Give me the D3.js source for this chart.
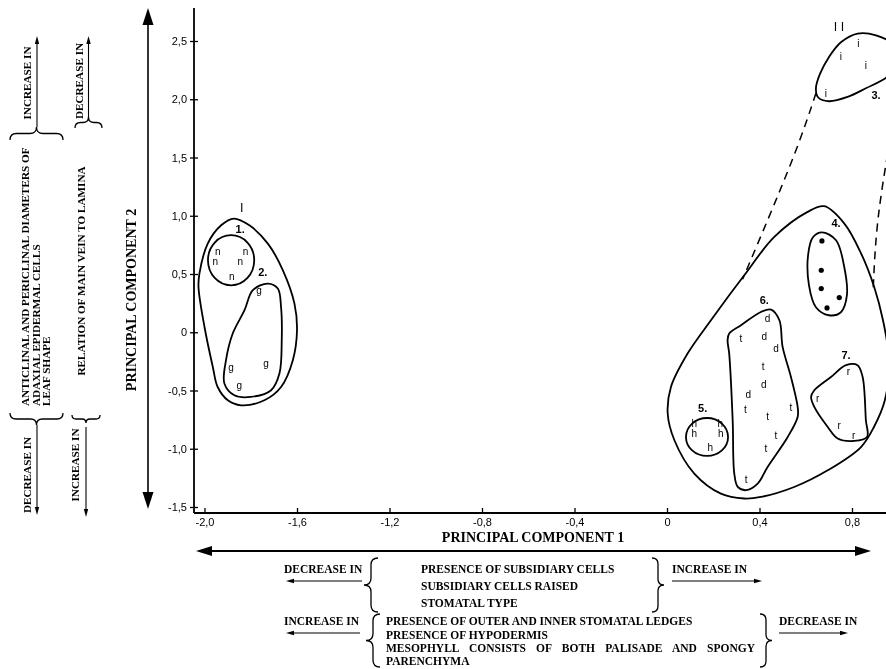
<!DOCTYPE html>
<html>
<head>
<meta charset="utf-8">
<script src="https://cdn.jsdelivr.net/npm/d3@7"></script>
<style>
  body { margin: 0; background: #fff; }
  #chart { will-change: transform; }
  svg { display: block; }
</style>
</head>
<body>
<div id="chart"></div>
<script>
// axis ticks
var xTicks = [-2.0, -1.6, -1.2, -0.8, -0.4, 0, 0.4, 0.8];
var xTickLabels = ["-2,0", "-1,6", "-1,2", "-0,8", "-0,4", "0", "0,4", "0,8"];
var yTicks = [-1.5, -1.0, -0.5, 0, 0.5, 1.0, 1.5, 2.0, 2.5];
var yTickLabels = ["-1,5", "-1,0", "-0,5", "0", "0,5", "1,0", "1,5", "2,0", "2,5"];

// scores on PC1 / PC2, one array per taxon letter
var pointsN = [[-1.943, 0.689], [-1.823, 0.689], [-1.953, 0.609], [-1.845, 0.609], [-1.882, 0.475]];
var pointsG = [[-1.764, 0.361], [-1.885, -0.300], [-1.734, -0.266], [-1.850, -0.455]];
var pointsI = [[0.827, 2.478], [0.752, 2.363], [0.860, 2.292], [0.687, 2.049]];
var pointsDot = [[0.670, 0.784], [0.667, 0.532], [0.667, 0.375], [0.745, 0.298], [0.692, 0.209]];
var pointsH = [[0.118, -0.779], [0.230, -0.779], [0.118, -0.870], [0.233, -0.870], [0.187, -0.985]];
var pointsD = [[0.435, 0.118], [0.421, -0.040], [0.471, -0.140], [0.418, -0.446], [0.351, -0.532]];
var pointsT = [[0.320, -0.054], [0.416, -0.298], [0.339, -0.664], [0.536, -0.650], [0.435, -0.727],
               [0.471, -0.884], [0.428, -0.998], [0.342, -1.264]];
var pointsR = [[0.784, -0.341], [0.652, -0.569], [0.745, -0.798], [0.807, -0.884]];

// group outlines (data units)
var hullI = [[-1.873, 0.976], [-1.806, 0.918], [-1.726, 0.761], [-1.661, 0.532], [-1.611, 0.246],
             [-1.600, 0.017], [-1.618, -0.240], [-1.669, -0.470], [-1.741, -0.584], [-1.842, -0.627],
             [-1.899, -0.584], [-1.943, -0.470], [-1.964, -0.298], [-2.000, 0.045], [-2.026, 0.389],
             [-2.022, 0.504], [-1.986, 0.761], [-1.928, 0.918]];
var hull2 = [[-1.726, 0.418], [-1.683, 0.375], [-1.669, 0.217], [-1.666, -0.069], [-1.676, -0.355],
             [-1.712, -0.498], [-1.799, -0.555], [-1.871, -0.541], [-1.914, -0.440], [-1.907, -0.240],
             [-1.878, -0.011], [-1.827, 0.189], [-1.791, 0.361]];
var hull3 = [[0.824, 2.564], [0.904, 2.549], [0.981, 2.464], [1.011, 2.318], [0.951, 2.189],
             [0.860, 2.094], [0.781, 2.020], [0.700, 1.983], [0.653, 2.017], [0.644, 2.094],
             [0.661, 2.215], [0.700, 2.361], [0.752, 2.489]];
var hullII = [[0.680, 1.082], [0.767, 0.933], [0.839, 0.678], [0.896, 0.389], [0.934, 0.103],
              [0.960, -0.240], [0.942, -0.584], [0.895, -0.813], [0.839, -0.985], [0.695, -1.185],
              [0.550, -1.328], [0.406, -1.414], [0.334, -1.427], [0.233, -1.385], [0.118, -1.213],
              [0.032, -0.927], [0.003, -0.698], [0.017, -0.470], [0.089, -0.183], [0.190, 0.103],
              [0.334, 0.489], [0.464, 0.818], [0.608, 1.033]];
var hull4 = [[0.670, 0.858], [0.731, 0.790], [0.765, 0.575], [0.778, 0.318], [0.752, 0.172],
             [0.700, 0.146], [0.644, 0.215], [0.614, 0.403], [0.610, 0.661], [0.631, 0.815]];
var hull6 = [[0.450, 0.195], [0.486, 0.103], [0.500, -0.126], [0.536, -0.384], [0.565, -0.641],
             [0.565, -0.727], [0.522, -0.899], [0.435, -1.156], [0.392, -1.299], [0.342, -1.356],
             [0.306, -1.328], [0.291, -1.213], [0.284, -0.755], [0.269, -0.183], [0.262, -0.069],
             [0.269, -0.011], [0.320, 0.060], [0.406, 0.174]];
var hull7 = [[0.774, -0.283], [0.824, -0.283], [0.846, -0.384], [0.860, -0.755], [0.865, -0.899],
             [0.810, -0.933], [0.738, -0.912], [0.695, -0.813], [0.637, -0.641], [0.623, -0.555],
             [0.637, -0.498], [0.709, -0.384]];
// [cx, cy, rx, ry]
var ellipse1 = [-1.885, 0.618, 0.100, 0.215];
var ellipse5 = [0.173, -0.899, 0.091, 0.163];

var dashLeft = [[0.644, 2.052], [0.536, 1.451], [0.327, 0.455]];
var dashRight = [[0.964, 1.648], [0.912, 0.961], [0.891, 0.343]];

var groupLabels = [[-1.839, 1.064, "I"], [-1.846, 0.885, "1."], [-1.748, 0.518, "2."],
                   [0.744, 2.621, "I I"], [0.904, 2.040, "3."], [0.731, 0.938, "4."],
                   [0.154, -0.652, "5."], [0.421, 0.275, "6."], [0.774, -0.197, "7."]];

var W = 886, H = 669;
var svg = d3.select("#chart").append("svg").attr("width", W).attr("height", H);
svg.append("rect").attr("width", W).attr("height", H).attr("fill", "#fff");

var x = d3.scaleLinear().domain([-2.0, 0.8]).range([204.5, 852]);
var y = d3.scaleLinear().domain([-1.5, 2.5]).range([507, 41]);

var SANS = "'Liberation Sans', Arial, sans-serif";
var SERIF = "'Liberation Serif', 'Times New Roman', serif";

// ---- axes
var gx = svg.append("g").attr("transform", "translate(0,513)")
    .call(d3.axisBottom(x).tickValues(xTicks).tickFormat(function(d, i) { return xTickLabels[i]; })
        .tickSizeInner(-5).tickSizeOuter(0));
gx.select(".domain").remove();
gx.selectAll(".tick line").attr("stroke", "#000").attr("stroke-width", 1.3);
gx.selectAll(".tick text").attr("y", 5).attr("fill", "#000")
    .style("font-family", SANS).style("font-size", "11px");

var gy = svg.append("g").attr("transform", "translate(194,0)")
    .call(d3.axisLeft(y).tickValues(yTicks).tickFormat(function(d, i) { return yTickLabels[i]; })
        .tickSizeInner(4).tickSizeOuter(0));
gy.select(".domain").remove();
gy.selectAll(".tick line").attr("x1", 4).attr("stroke", "#000").attr("stroke-width", 1.3);
gy.selectAll(".tick text").attr("x", -7).attr("fill", "#000")
    .style("font-family", SANS).style("font-size", "11px");

svg.append("line").attr("x1", 194).attr("x2", W).attr("y1", 513).attr("y2", 513)
    .attr("stroke", "#000").attr("stroke-width", 1.8);
svg.append("line").attr("x1", 194).attr("x2", 194).attr("y1", 8).attr("y2", 513)
    .attr("stroke", "#000").attr("stroke-width", 1.8);

// ---- outlines
var hullLine = d3.line().x(function(d) { return x(d[0]); }).y(function(d) { return y(d[1]); })
    .curve(d3.curveCatmullRomClosed.alpha(0.5));
var linkLine = d3.line().x(function(d) { return x(d[0]); }).y(function(d) { return y(d[1]); })
    .curve(d3.curveNatural);

[hullI, hull2, hull3, hullII, hull4, hull6, hull7].forEach(function(h) {
    svg.append("path").attr("d", hullLine(h)).attr("fill", "none")
        .attr("stroke", "#000").attr("stroke-width", 1.8);
});
[ellipse1, ellipse5].forEach(function(e) {
    svg.append("ellipse")
        .attr("cx", x(e[0])).attr("cy", y(e[1]))
        .attr("rx", x(e[0] + e[2]) - x(e[0])).attr("ry", y(e[1] - e[3]) - y(e[1]))
        .attr("fill", "none").attr("stroke", "#000").attr("stroke-width", 1.8);
});
[dashLeft, dashRight].forEach(function(l) {
    svg.append("path").attr("d", linkLine(l)).attr("fill", "none")
        .attr("stroke", "#000").attr("stroke-width", 1.5).attr("stroke-dasharray", "8,6");
});

// ---- points
function letters(data, ch) {
    svg.append("g").selectAll("text").data(data).enter().append("text")
        .attr("x", function(d) { return x(d[0]); })
        .attr("y", function(d) { return y(d[1]); })
        .attr("text-anchor", "middle").attr("dominant-baseline", "central")
        .attr("fill", "#000")
        .style("font-family", SANS).style("font-size", "10px")
        .text(ch);
}
letters(pointsN, "n");
letters(pointsG, "g");
letters(pointsI, "i");
letters(pointsH, "h");
letters(pointsD, "d");
letters(pointsT, "t");
letters(pointsR, "r");
svg.append("g").selectAll("circle").data(pointsDot).enter().append("circle")
    .attr("cx", function(d) { return x(d[0]); })
    .attr("cy", function(d) { return y(d[1]); })
    .attr("r", 2.6).attr("fill", "#000");

svg.append("g").selectAll("text").data(groupLabels).enter().append("text")
    .attr("x", function(d) { return x(d[0]); })
    .attr("y", function(d) { return y(d[1]); })
    .attr("text-anchor", "middle").attr("dominant-baseline", "central")
    .attr("fill", "#000")
    .style("font-family", SANS)
    .style("font-size", function(d) { return d[2].indexOf("I") >= 0 ? "12.5px" : "11px"; })
    .style("font-weight", function(d) { return d[2].indexOf("I") >= 0 ? "normal" : "bold"; })
    .text(function(d) { return d[2]; });

// ---- arrows, braces, annotations
function arrow(x1, y1, x2, y2, len, hw, sw) {
    var a = Math.atan2(y2 - y1, x2 - x1), c = Math.cos(a), s = Math.sin(a);
    svg.append("line").attr("x1", x1).attr("y1", y1)
        .attr("x2", x2 - c * len * 0.6).attr("y2", y2 - s * len * 0.6)
        .attr("stroke", "#000").attr("stroke-width", sw);
    var bx = x2 - c * len, by = y2 - s * len;
    svg.append("path")
        .attr("d", "M" + x2 + "," + y2 + "L" + (bx - s * hw) + "," + (by + c * hw) +
            "L" + (bx + s * hw) + "," + (by - c * hw) + "Z")
        .attr("fill", "#000");
}
function braceV(tx, y0, y1, w) {
    var xm = tx + w / 2, xe = tx + w, ym = (y0 + y1) / 2, r = Math.abs(w) / 2;
    svg.append("path").attr("fill", "none").attr("stroke", "#000").attr("stroke-width", 1.3)
        .attr("d", "M" + xe + "," + y0 + "Q" + xm + "," + y0 + " " + xm + "," + (y0 + r) +
            "L" + xm + "," + (ym - r) + "Q" + xm + "," + ym + " " + tx + "," + ym +
            "Q" + xm + "," + ym + " " + xm + "," + (ym + r) +
            "L" + xm + "," + (y1 - r) + "Q" + xm + "," + y1 + " " + xe + "," + y1);
}
function braceH(ty, x0, x1, h) {
    var ym = ty + h / 2, ye = ty + h, xm = (x0 + x1) / 2, r = Math.abs(h) / 2;
    svg.append("path").attr("fill", "none").attr("stroke", "#000").attr("stroke-width", 1.3)
        .attr("d", "M" + x0 + "," + ye + "Q" + x0 + "," + ym + " " + (x0 + r) + "," + ym +
            "L" + (xm - r) + "," + ym + "Q" + xm + "," + ym + " " + xm + "," + ty +
            "Q" + xm + "," + ym + " " + (xm + r) + "," + ym +
            "L" + (x1 - r) + "," + ym + "Q" + x1 + "," + ym + " " + x1 + "," + ye);
}
function label(tx, ty, str, size, anchor, rot) {
    var t = svg.append("text")
        .attr("transform", "translate(" + tx + "," + ty + ")" + (rot ? " rotate(-90)" : ""))
        .attr("text-anchor", anchor || "start").attr("dominant-baseline", "central")
        .attr("fill", "#000")
        .style("font-family", SERIF).style("font-weight", "bold").style("font-size", size + "px")
        .text(str);
    return t;
}

// axis titles
label(533, 537, "PRINCIPAL COMPONENT 1", 14, "middle");
label(131, 300, "PRINCIPAL COMPONENT 2", 14, "middle", true);
arrow(500, 551, 196, 551, 16, 5, 2);
arrow(500, 551, 871, 551, 16, 5, 2);
arrow(148, 260, 148, 8, 17, 5.5, 1.6);
arrow(148, 260, 148, 509, 17, 5.5, 1.6);

// PC2 side notes
var LS = 11.2;
label(27, 83, "INCREASE IN", LS, "middle", true);
arrow(37, 127, 37, 36, 8, 2.2, 1.1);
braceH(127, 10, 63, 13);
label(25, 406, "ANTICLINAL AND PERICLINAL DIAMETERS OF", LS, "start", true);
label(35.5, 406, "ADAXIAL EPIDERMAL CELLS", LS, "start", true);
label(46, 406, "LEAF SHAPE", LS, "start", true);
braceH(425, 10, 63, -12);
label(27, 475, "DECREASE IN", LS, "middle", true);
arrow(37, 425, 37, 515, 8, 2.2, 1.1);

label(79, 81, "DECREASE IN", LS, "middle", true);
arrow(88.5, 117, 88.5, 36, 8, 2.2, 1.1);
braceH(117, 75, 102, 11);
label(81, 271, "RELATION OF MAIN VEIN TO LAMINA", LS, "middle", true);
braceH(423, 72, 100, -8);
label(75, 465, "INCREASE IN", LS, "middle", true);
arrow(86, 427, 86, 517, 8, 2.2, 1.1);

// PC1 notes
var BS = 11.5;
label(284, 569, "DECREASE IN", BS);
arrow(362, 581, 286, 581, 8, 2.2, 1.1);
braceV(364, 558, 612, 14);
label(421, 569, "PRESENCE OF SUBSIDIARY CELLS", BS);
label(421, 586, "SUBSIDIARY CELLS RAISED", BS);
label(421, 603, "STOMATAL TYPE", BS);
braceV(664, 558, 612, -12);
label(672, 569, "INCREASE IN", BS);
arrow(672, 581, 762, 581, 8, 2.2, 1.1);

label(284, 621, "INCREASE IN", BS);
arrow(360, 633, 286, 633, 8, 2.2, 1.1);
braceV(366, 614, 667, 14);
label(386, 621, "PRESENCE OF OUTER AND INNER STOMATAL LEDGES", BS);
label(386, 635, "PRESENCE OF HYPODERMIS", BS);
var meso = label(386, 648, "MESOPHYLL CONSISTS OF BOTH PALISADE AND SPONGY", BS);
label(386, 661, "PARENCHYMA", BS);
braceV(772, 614, 667, -12);
label(779, 621, "DECREASE IN", BS);
arrow(779, 633, 848, 633, 8, 2.2, 1.1);

// justify the long mesophyll line like the print
var ml = meso.node().getComputedTextLength();
meso.style("word-spacing", Math.max(0, (755 - 386 - ml) / 6) + "px");
</script>
</body>
</html>
